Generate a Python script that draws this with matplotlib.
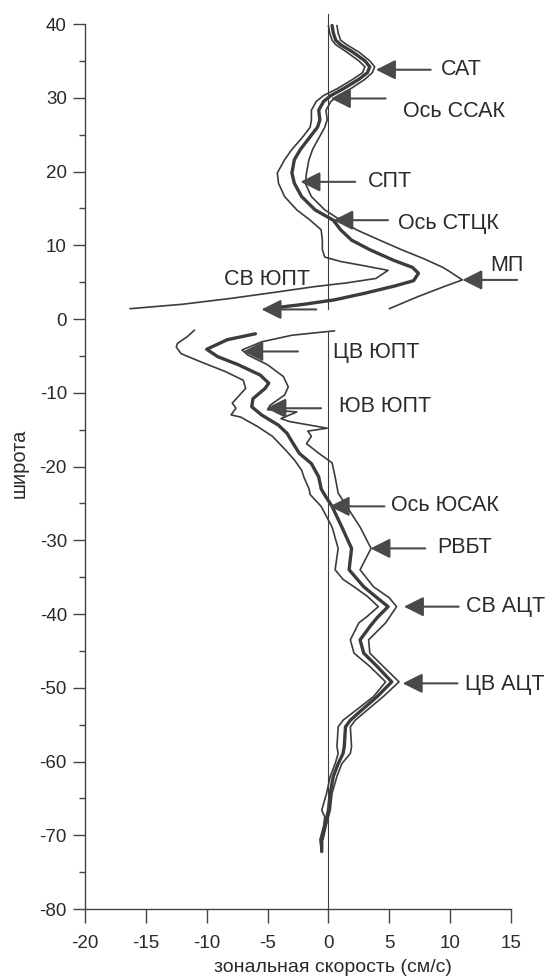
import matplotlib
matplotlib.use("Agg")
import matplotlib.pyplot as plt
import numpy as np

plt.rcParams['font.family'] = ['Liberation Sans', 'DejaVu Sans']

# --- данные: зональная скорость (см/с) по широте, три кривые (левая, средняя, правая)
# северная ветвь (от 40 с.ш. к экватору)
lat_n_left = [39.8, 38.8, 37.8, 37.2, 36.2, 35.0, 34.2, 33.4, 32.5, 31.3, 30.3, 29.5, 28.3, 27.0, 26.0,
              24.5, 23.0, 21.6, 19.8, 18.4, 16.6, 14.8, 13.4, 12.1, 10.7, 9.4, 8.4, 7.8, 7.2, 6.6,
              5.5, 4.9, 4.4, 3.6, 2.8, 2.0, 1.4]
u_n_left = [0.0, 0.1, 0.3, 0.6, 1.5, 2.5, 3.0, 2.8, 2.0, 0.8, -0.4, -1.0, -1.4, -1.4, -1.5,
            -2.2, -3.0, -3.6, -4.2, -4.1, -3.6, -2.6, -1.5, -0.6, -0.5, -0.5, -0.3, 1.0, 3.0, 4.9,
            3.9, 1.5, -1.1, -4.5, -8.0, -12.0, -16.3]

lat_n_mid = [39.8, 38.8, 37.8, 37.2, 36.2, 35.0, 34.2, 33.4, 32.5, 31.3, 30.3, 29.5, 28.3, 27.0, 26.0,
             24.5, 23.0, 21.6, 19.8, 18.4, 16.6, 14.8, 13.4, 12.1, 10.7, 9.4, 8.0, 7.0, 6.2, 5.2,
             4.5, 3.5, 2.6, 2.0, 1.6]
u_n_mid = [0.3, 0.4, 0.6, 1.0, 2.0, 3.0, 3.4, 3.2, 2.5, 1.3, 0.2, -0.4, -0.8, -0.7, -0.9,
           -1.6, -2.3, -2.8, -3.0, -2.8, -2.2, -1.1, 0.4, 1.0, 1.9, 3.4, 5.3, 6.9, 7.4, 7.0,
           5.5, 3.0, 0.5, -2.0, -4.0]

lat_n_right = [39.8, 38.8, 37.8, 37.2, 36.2, 35.0, 34.2, 33.4, 32.5, 31.3, 30.3, 29.5, 28.3, 27.0, 26.0,
               24.5, 23.0, 21.6, 19.8, 18.4, 16.6, 14.8, 13.4, 12.1, 10.7, 9.4, 8.2, 7.6, 7.0, 6.5,
               5.3, 4.4, 3.0, 1.4]
u_n_right = [0.7, 0.8, 1.0, 1.5, 2.5, 3.4, 3.8, 3.6, 3.0, 1.9, 0.8, 0.2, -0.2, -0.1, -0.3,
             -0.8, -1.3, -1.6, -1.8, -1.9, -1.4, -0.3, 1.0, 2.3, 4.2, 6.0, 7.8, 8.6, 9.4, 9.9,
             11.0, 9.5, 7.3, 5.0]

# южная ветвь (от экватора к 72 ю.ш.)
lat_s_left = [-1.5, -2.4, -3.3, -3.8, -4.7, -5.8, -7.1, -8.3, -9.4, -10.5, -11.4, -12.1, -13.0, -13.3,
              -14.6, -15.9, -17.8, -19.1, -20.5, -21.5, -23.0, -23.8, -25.4, -28.2, -31.1, -34.0,
              -35.3, -36.3, -37.6, -39.0, -40.3, -41.2, -43.5, -45.3, -47.1, -49.2, -51.2, -53.0,
              -54.4, -55.3, -58.0, -58.9, -60.3, -62.0, -64.3, -66.6, -67.5, -68.8, -70.6, -72.0]
u_s_left = [-11.0, -11.6, -12.4, -12.5, -12.1, -10.5, -8.5, -7.0, -6.8, -7.4, -7.9, -7.6, -8.0, -7.2,
            -5.8, -4.6, -3.5, -2.8, -2.2, -2.0, -1.6, -1.5, -0.6, 0.3, 0.8, 0.55,
            1.2, 2.1, 3.2, 4.1, 3.2, 2.5, 1.8, 2.1, 3.4, 4.7, 3.7, 2.3,
            1.2, 0.8, 0.7, 0.8, 0.55, 0.15, -0.15, -0.55, -0.3, -0.4, -0.7, -0.6]

lat_s_mid = [-2.0, -2.8, -4.1, -5.1, -6.2, -7.6, -8.7, -9.4, -10.8, -11.9, -13.0, -14.4, -15.5, -16.6,
             -18.2, -19.6, -21.4, -23.0, -23.6, -25.4, -28.2, -31.1, -34.0, -36.3, -37.8, -39.0,
             -40.5, -41.5, -43.5, -45.3, -47.1, -49.2, -51.2, -53.0, -54.4, -55.3, -58.0, -58.9,
             -60.3, -62.0, -64.3, -66.6, -68.8, -70.6, -72.2]
u_s_mid = [-6.0, -8.3, -10.0, -9.1, -7.4, -5.6, -4.9, -5.2, -6.2, -6.3, -5.5, -4.1, -3.4, -3.0,
           -2.4, -1.4, -0.8, -0.6, -0.4, 0.3, 1.1, 1.9, 1.7, 2.9, 4.0, 4.9,
           4.0, 3.5, 2.6, 2.9, 4.0, 5.2, 4.0, 2.75, 1.8, 1.4, 1.3, 1.2,
           0.8, 0.4, 0.15, 0.0, -0.3, -0.55, -0.55]

lat_s_right = [-1.6, -2.2, -3.1, -4.2, -4.9, -6.2, -7.8, -9.2, -10.3, -11.7, -12.3, -12.6, -13.5, -13.9,
               -14.8, -15.2, -15.9, -16.9, -18.2, -19.5, -21.4, -23.6, -25.4, -28.2, -31.1, -34.0,
               -36.3, -37.8, -39.0, -41.2, -43.5, -45.3, -47.1, -49.2, -51.2, -53.0, -54.4, -55.3,
               -58.0, -58.9, -60.3, -62.0, -64.3, -66.6, -68.8, -70.6]
u_s_right = [0.5, -3.0, -5.5, -7.1, -6.6, -5.0, -3.7, -3.3, -3.6, -4.8, -5.0, -2.6, -3.9, -3.2,
             -0.1, -1.7, -1.4, -1.8, -0.8, 0.3, 0.55, 0.8, 1.5, 2.6, 3.5, 2.6,
             3.7, 5.0, 5.6, 4.7, 3.3, 3.4, 4.5, 5.8, 4.5, 3.2, 2.2, 1.8,
             1.9, 1.8, 1.1, 0.7, 0.3, 0.15, -0.2, -0.45]

# подписи течений: текст, широта острия стрелки, скорость у острия
labels = ["САТ", "Ось ССАК", "СПТ", "Ось СТЦК", "МП", "СВ ЮПТ",
          "ЦВ ЮПТ", "ЮВ ЮПТ", "Ось ЮСАК", "РВБТ", "СВ АЦТ", "ЦВ АЦТ"]
arrow_lat = [33.8, 29.9, 18.6, 13.4, 5.3, 1.3, -4.4, -12.1, -25.4, -31.1, -39.0, -49.4]
arrow_u = [3.9, 0.2, -2.3, 0.4, 11.0, -5.5, -7.0, -5.1, 0.1, 3.45, 6.2, 6.1]
# положение надписи относительно конца стрелки (du, dlat)
label_du = [0.8, 1.4, 1.0, 0.8, -2.2, -7.6, 2.9, 1.5, 0.5, 1.0, 0.6, 0.6]
label_dlat = [0.0, -1.7, 0.0, -0.4, 1.9, 4.1, -0.2, 0.3, 0.1, 0.1, 0.0, -0.2]

xticks = [-20, -15, -10, -5, 0, 5, 10, 15]
yticks = [40, 30, 20, 10, 0, -10, -20, -30, -40, -50, -60, -70, -80]

line_c = '#3c3c3c'
text_c = '#2a2a2a'

fig = plt.figure(figsize=(5.54, 9.76), dpi=100)
ax = fig.add_axes([0.1534, 0.0686, 0.769, 0.9068])

# нулевая линия (разрыв у экватора)
ax.plot([0, 0], [41.3, 1.3], color=line_c, lw=0.8, clip_on=False)
ax.plot([0, 0], [-1.6, -80], color=line_c, lw=0.8)

for u, la, w in [(u_n_left, lat_n_left, 1.2), (u_n_mid, lat_n_mid, 2.4), (u_n_right, lat_n_right, 1.2),
                 (u_s_left, lat_s_left, 1.2), (u_s_mid, lat_s_mid, 2.4), (u_s_right, lat_s_right, 1.2)]:
    ax.plot(u, la, color=line_c, lw=w, solid_joinstyle='round', solid_capstyle='round')

arrow_len = 4.5
for txt, la, u, du, dl in zip(labels, arrow_lat, arrow_u, label_du, label_dlat):
    ax.annotate('', xy=(u, la), xytext=(u + arrow_len, la),
                arrowprops=dict(arrowstyle='-|>,head_length=0.6,head_width=0.3',
                                mutation_scale=20, color='#4a4a4a', lw=1.5,
                                shrinkA=0, shrinkB=0),
                annotation_clip=False)
    ax.text(u + arrow_len + du, la + dl, txt, fontsize=15.5, color=text_c,
            ha='left', va='center', clip_on=False)

ax.set_xlim(-20, 15)
ax.set_ylim(-80, 40)
ax.set_xticks(xticks)
ax.set_yticks(yticks)
ax.set_yticks(np.arange(-75, 40, 10), minor=True)
ax.set_xticklabels([str(t) for t in xticks])
ax.set_yticklabels([str(t) for t in yticks])

for s in ['top', 'right']:
    ax.spines[s].set_visible(False)
for s in ['left', 'bottom']:
    ax.spines[s].set_linewidth(1.0)
    ax.spines[s].set_color('#444444')

ax.tick_params(axis='y', which='major', direction='out', length=9, width=1.0,
               pad=4, labelsize=13.5, colors='#444444', labelcolor=text_c)
ax.tick_params(axis='y', which='minor', direction='out', length=4.5, width=1.0, colors='#444444')
ax.tick_params(axis='x', which='major', direction='out', length=10, width=1.0,
               pad=9, labelsize=13.5, colors='#444444', labelcolor=text_c)

fig.text(333 / 554, 1 - 968 / 976, 'зональная скорость (см/с)', fontsize=14,
         color=text_c, ha='center', va='center')
fig.text(19 / 554, 1 - 463 / 976, 'широта', fontsize=14.5, color=text_c,
         ha='center', va='center', rotation=90)

fig.savefig('out.png', dpi=100, facecolor='white')
